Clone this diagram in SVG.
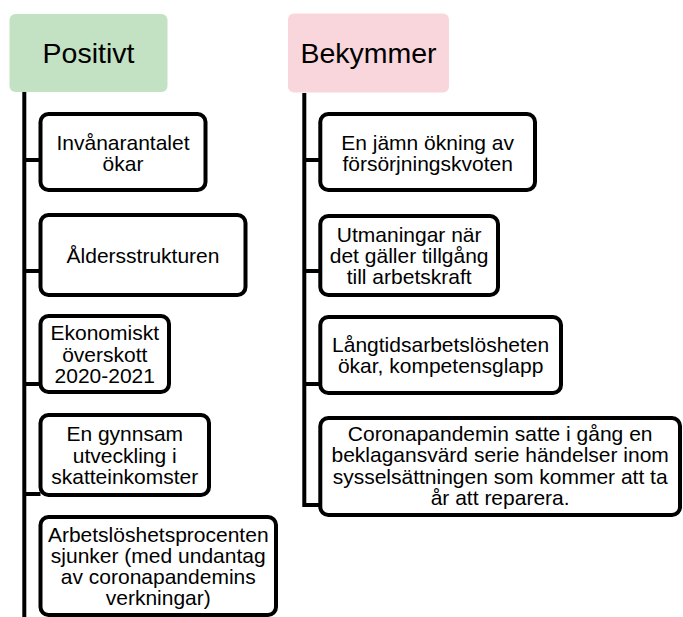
<svg xmlns="http://www.w3.org/2000/svg" width="683" height="617" viewBox="0 0 683 617">
<style>
.hdr{font-family:"Liberation Sans",Arial,sans-serif;font-size:28.5px;fill:#000;text-anchor:middle}
.t{font-family:"Liberation Sans",Arial,sans-serif;font-size:21px;fill:#000;text-anchor:middle}
.box{fill:#fff;stroke:#000;stroke-width:4}
.ln{stroke:#000;stroke-width:4;fill:none}
</style>
<rect width="683" height="617" fill="#fff"/>
<g id="connectors">
<line class="ln" x1="24.3" y1="92" x2="24.3" y2="617"/>
<line class="ln" x1="24.3" y1="160" x2="40.5" y2="160"/>
<line class="ln" x1="24.3" y1="271" x2="40.5" y2="271"/>
<line class="ln" x1="24.3" y1="384" x2="40.5" y2="384"/>
<line class="ln" x1="24.3" y1="494" x2="40.5" y2="494"/>
<polyline class="ln" points="304.3,93 304.3,505 320.3,505"/>
<line class="ln" x1="304.3" y1="160" x2="320.3" y2="160"/>
<line class="ln" x1="304.3" y1="271" x2="320.3" y2="271"/>
<line class="ln" x1="304.3" y1="384" x2="320.3" y2="384"/>
</g>
<g id="positivt">
<rect x="9.5" y="14" width="158" height="78" rx="6" fill="#c3e2c3"/>
<text class="hdr" x="88.5" y="62.5">Positivt</text>
</g>
<g id="bekymmer">
<rect x="288" y="13.5" width="161" height="79" rx="6" fill="#f9d6dc"/>
<text class="hdr" x="368.5" y="62.5">Bekymmer</text>
</g>
<g id="p1">
<rect class="box" x="40.5" y="114" width="165" height="76" rx="8"/>
<text class="t" x="123" y="150"><tspan x="123">Invånarantalet</tspan><tspan x="123" dy="21.3">ökar</tspan></text>
</g>
<g id="p2">
<rect class="box" x="40.5" y="215" width="205" height="80" rx="8"/>
<text class="t" x="143" y="262.5">Åldersstrukturen</text>
</g>
<g id="p3">
<rect class="box" x="40.5" y="316" width="128.5" height="76" rx="8"/>
<text class="t" x="104.75" y="340.2"><tspan x="104.75">Ekonomiskt</tspan><tspan x="104.75" dy="21.3">överskott</tspan><tspan x="104.75" dy="21.3">2020-2021</tspan></text>
</g>
<g id="p4">
<rect class="box" x="40.5" y="415" width="168.5" height="80" rx="8"/>
<text class="t" x="124.75" y="441.2"><tspan x="124.75">En gynnsam</tspan><tspan x="124.75" dy="21.3">utveckling i</tspan><tspan x="124.75" dy="21.3">skatteinkomster</tspan></text>
</g>
<g id="p5">
<rect class="box" x="40.5" y="517" width="235.5" height="98" rx="8"/>
<text class="t" x="158.25" y="541.5"><tspan x="158.25">Arbetslöshetsprocenten</tspan><tspan x="158.25" dy="21.3">sjunker (med undantag</tspan><tspan x="158.25" dy="21.3">av coronapandemins</tspan><tspan x="158.25" dy="21.3">verkningar)</tspan></text>
</g>
<g id="b1">
<rect class="box" x="320.3" y="114" width="214.7" height="76" rx="8"/>
<text class="t" x="427.65" y="149.5"><tspan x="427.65">En jämn ökning av</tspan><tspan x="427.65" dy="21.3">försörjningskvoten</tspan></text>
</g>
<g id="b2">
<rect class="box" x="320.3" y="216" width="177.7" height="79" rx="8"/>
<text class="t" x="409.15" y="241.7"><tspan x="409.15">Utmaningar när</tspan><tspan x="409.15" dy="21.3">det gäller tillgång</tspan><tspan x="409.15" dy="21.3">till arbetskraft</tspan></text>
</g>
<g id="b3">
<rect class="box" x="320.3" y="317" width="240.7" height="76" rx="8"/>
<text class="t" x="440.65" y="351.8"><tspan x="440.65">Långtidsarbetslösheten</tspan><tspan x="440.65" dy="21.3">ökar, kompetensglapp</tspan></text>
</g>
<g id="b4">
<rect class="box" x="320.3" y="418" width="359.7" height="97" rx="8"/>
<text class="t" x="500.15" y="441"><tspan x="500.15">Coronapandemin satte i gång en</tspan><tspan x="500.15" dy="21.3">beklagansvärd serie händelser inom</tspan><tspan x="500.15" dy="21.3">sysselsättningen som kommer att ta</tspan><tspan x="500.15" dy="21.3">år att reparera.</tspan></text>
</g>
</svg>
